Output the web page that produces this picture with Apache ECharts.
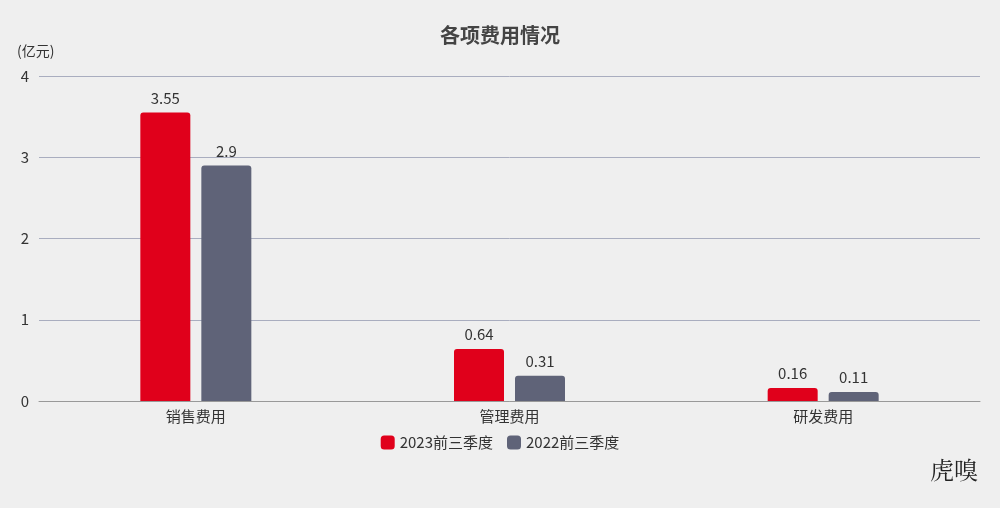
<!DOCTYPE html>
<html><head><meta charset="utf-8">
<script src="https://cdn.jsdelivr.net/npm/echarts@6/dist/echarts.min.js"></script>
<style>html,body{margin:0;padding:0;background:#efefef}#c{width:1000px;height:508px}</style>
</head><body><div id="c"></div>
<script>
const categories = ['销售费用','管理费用','研发费用'];
const s2023 = [3.55, 0.64, 0.16];
const s2022 = [2.9, 0.31, 0.11];
const yTicks = [0,1,2,3,4];
const font = '"Noto Sans CJK SC", "Noto Sans", sans-serif';
const chart = echarts.init(document.getElementById('c'));
chart.setOption({
  backgroundColor:'#efefef',
  textStyle:{fontFamily:font},
  title:{text:'各项费用情况',left:'center',top:20,textStyle:{fontSize:20,fontWeight:'bold',color:'#444',fontFamily:font}},
  legend:{bottom:53,left:'center',itemWidth:14,itemHeight:14,itemGap:14,textStyle:{fontSize:15,color:'#333'},data:['2023前三季度','2022前三季度']},
  grid:{left:39,right:20,top:76,bottom:107},
  xAxis:{type:'category',data:categories,axisTick:{show:false},axisLine:{lineStyle:{color:'#999'}},axisLabel:{fontSize:15,color:'#333',margin:8}},
  yAxis:{type:'value',min:0,max:4,interval:1,name:'(亿元)',nameLocation:'end',nameGap:18,nameTextStyle:{fontSize:14,color:'#333',align:'left',padding:[0,0,0,-22]},
    axisLabel:{fontSize:15,color:'#333',margin:14,align:'center'},splitLine:{lineStyle:{color:'#a9adbf'}}},
  series:[
    {name:'2023前三季度',type:'bar',data:s2023,barWidth:50,barGap:'22%',itemStyle:{color:'#e0001b',borderRadius:[3,3,0,0]},label:{show:true,position:'top',distance:7,fontSize:15,color:'#333'}},
    {name:'2022前三季度',type:'bar',data:s2022,barWidth:50,itemStyle:{color:'#5f6378',borderRadius:[3,3,0,0]},label:{show:true,position:'top',distance:7,fontSize:15,color:'#333'}}
  ],
  graphic:[{type:'text',right:22,bottom:26,style:{text:'虎嗅',fontSize:24,fill:'#222',fontFamily:'"Noto Serif CJK SC", "Noto Sans CJK SC", serif'}}]
});
</script></body></html>
